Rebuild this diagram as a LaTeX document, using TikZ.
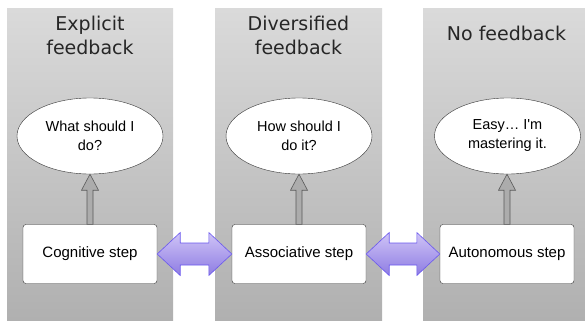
\documentclass[tikz,border=0pt]{standalone}
\usepackage{fontspec}
\setmainfont{Liberation Sans}
\newfontfamily\titlefont{DejaVu Sans}
\usepackage{tikz}
\usetikzlibrary{positioning,calc,shapes.geometric}
\definecolor{colTop}{HTML}{DADADA}
\definecolor{colBot}{HTML}{B0B0B0}
\definecolor{lilacTop}{HTML}{CFC4F7}
\definecolor{lilacBot}{HTML}{8E7CE2}
\definecolor{lilacLine}{HTML}{6A58EE}

\begin{document}
\begin{tikzpicture}[x=1pt,y=-1pt,
	column/.style={top color=colTop, bottom color=colBot, draw=none},
	title/.style={font=\titlefont\fontsize{19}{24}\selectfont, align=center, text=black!85},
	thought/.style={ellipse, draw=black!80, fill=white, minimum width=146pt, minimum height=76pt, inner sep=0pt, align=center, font=\fontsize{14.5}{19}\selectfont},
	stepbox/.style={rectangle, rounded corners=3pt, draw=black!80, fill=white, minimum width=134pt, minimum height=59pt, font=\fontsize{15}{18}\selectfont},
	uparrow/.style={draw=black!65, fill=gray!65, line width=0.6pt, line join=miter},
	bigarrow/.style={draw=lilacLine, top color=lilacTop, bottom color=lilacBot, line width=0.6pt, line join=miter}]
\useasboundingbox (0,0) rectangle (585,321);

% background columns
\fill[column] (7,9) rectangle (173,320);
\fill[column] (215,9) rectangle (382,320);
\fill[column] (423,9) rectangle (590,320);

% titles
\node[title] (t1) at (90,35) {Explicit\\feedback};
\node[title] (t2) at (298.5,35) {Diversified\\feedback};
\node[title] (t3) at (506.5,33) {No feedback};

% thoughts
\node[thought] (q1) at (90,136) {What should I\\do?};
\node[thought] (q2) at (299,136) {How should I\\do it?};
\node[thought] (q3) at (507.5,136) {Easy\ldots\ I\textquotesingle m\\mastering it.};

% steps
\node[stepbox] (s1) at (90,254) {Cognitive step};
\node[stepbox] (s2) at (299,254) {Associative step};
\node[stepbox] (s3) at (507,254) {Autonomous step};

% small arrows up
\foreach \i in {1,2,3}{
	\path[uparrow] let \p1=(s\i.north), \p2=(q\i.south) in
		(\x1-3pt,\y1) -- (\x1-3pt,\y2-16pt) -- (\x1-8.5pt,\y2-16pt) -- (\x1,\y2)
		-- (\x1+8.5pt,\y2-16pt) -- (\x1+3pt,\y2-16pt) -- (\x1+3pt,\y1) -- cycle;
}

% double arrows between steps
\foreach \a/\b in {s1/s2,s2/s3}{
	\path[bigarrow] let \p1=(\a.east), \p2=(\b.west) in
		(\p1) -- (\x1+23pt,\y1+21.5pt) -- (\x1+23pt,\y1+11pt) -- (\x2-23pt,\y2+11pt)
		-- (\x2-23pt,\y2+21.5pt) -- (\p2) -- (\x2-23pt,\y2-21.5pt) -- (\x2-23pt,\y2-11pt)
		-- (\x1+23pt,\y1-11pt) -- (\x1+23pt,\y1-21.5pt) -- cycle;
}
\end{tikzpicture}
\end{document}
